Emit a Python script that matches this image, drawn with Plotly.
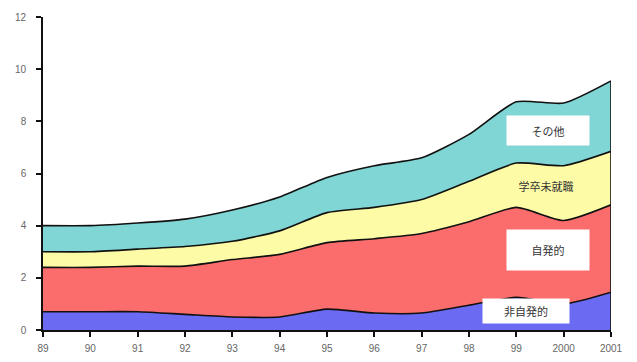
import plotly.graph_objects as go

# Unemployment by reason (stacked), 1989-2001
years = [1989, 1990, 1991, 1992, 1993, 1994, 1995, 1996, 1997, 1998, 1999, 2000, 2001]
year_labels = ["89", "90", "91", "92", "93", "94", "95", "96", "97", "98", "99", "2000", "2001"]

involuntary = [0.7, 0.7, 0.7, 0.6, 0.5, 0.5, 0.8, 0.65, 0.65, 0.95, 1.25, 1.0, 1.45]
voluntary = [1.7, 1.7, 1.75, 1.85, 2.2, 2.4, 2.55, 2.85, 3.05, 3.2, 3.45, 3.2, 3.35]
graduates = [0.6, 0.6, 0.65, 0.75, 0.7, 0.9, 1.15, 1.2, 1.3, 1.55, 1.7, 2.1, 2.05]
others = [1.0, 1.0, 1.0, 1.05, 1.2, 1.3, 1.35, 1.6, 1.6, 1.8, 2.35, 2.4, 2.7]

y_ticks = [0, 2, 4, 6, 8, 10, 12]

series = [
    ("非自発的", involuntary, "#6a6af2"),
    ("自発的", voluntary, "#fb6d6d"),
    ("学卒未就職", graduates, "#fdfba6"),
    ("その他", others, "#80d6d4"),
]

fig = go.Figure()
for name, vals, color in series:
    fig.add_trace(go.Scatter(
        x=years, y=vals, name=name, stackgroup="one",
        mode="lines", line=dict(color="#111111", width=1.6, shape="spline", smoothing=0.6),
        fillcolor=color, hoverinfo="skip",
    ))

# closing edge of the stacked area at the last year
total_last = sum(s[1][-1] for s in series)
fig.add_trace(go.Scatter(
    x=[years[-1], years[-1]], y=[0, total_last], mode="lines",
    line=dict(color="#111111", width=1.6), hoverinfo="skip", showlegend=False,
))

label_font = dict(family="Noto Sans CJK JP", size=11, color="#333333")
labels = [
    ("その他", 1999.67, 7.65, 80, 27, "white"),
    ("学卒未就職", 1999.62, 5.54, 80, 20, "rgba(0,0,0,0)"),
    ("自発的", 1999.67, 3.08, 80, 38, "white"),
    ("非自発的", 1999.2, 0.73, 84, 22, "white"),
]
for text, x, y, w, h, bg in labels:
    fig.add_annotation(x=x, y=y, xref="x", yref="y", text=text, showarrow=False,
                       font=label_font, bgcolor=bg, width=w, height=h,
                       align="center", valign="middle")

fig.update_layout(
    width=637, height=362,
    margin=dict(l=43, r=26, t=17, b=32),
    paper_bgcolor="white", plot_bgcolor="white",
    showlegend=False,
    xaxis=dict(
        range=[years[0], years[-1]], tickvals=years, ticktext=year_labels,
        showgrid=False, zeroline=False, showline=True, linecolor="#111111", linewidth=1.6,
        ticks="outside", ticklen=5, tickcolor="#111111", tickwidth=1.5,
        ticklabelstandoff=3, automargin=False,
        tickfont=dict(family="Arial", size=10, color="#666666"),
    ),
    yaxis=dict(
        range=[0, 12], tickvals=y_ticks,
        showgrid=False, zeroline=False, showline=True, linecolor="#111111", linewidth=1.6,
        ticks="outside", ticklen=5, tickcolor="#111111", tickwidth=1.5,
        ticklabelstandoff=8, automargin=False,
        tickfont=dict(family="Arial", size=10, color="#666666"),
    ),
)

fig.write_html("out.html")
